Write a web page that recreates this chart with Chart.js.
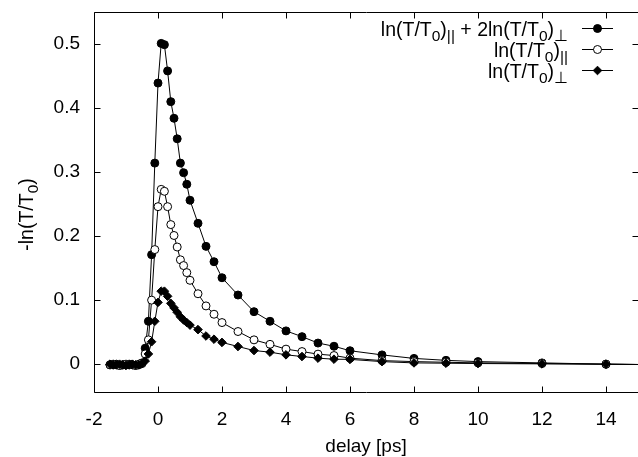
<!DOCTYPE html>
<html><head><meta charset="utf-8">
<script src="https://cdn.jsdelivr.net/npm/chart.js@4/dist/chart.umd.min.js"></script>
<style>html,body{margin:0;padding:0;background:#fff;overflow:hidden}</style>
</head><body>
<canvas id="c" width="638" height="457"></canvas>
<script>
// ---- data ----
const delays = [-1.5,-1.4,-1.3,-1.2,-1.1,-1.0,-0.9,-0.8,-0.7,-0.6,-0.5,
  -0.4,-0.3,-0.2,-0.1,0.0,0.1,0.2,0.3,0.4,0.5,0.6,0.7,0.8,0.9,1.0,
  1.25,1.5,1.75,2.0,2.5,3.0,3.5,4.0,4.5,5.0,5.5,6.0,7,8,9,10,12,14,16];
const sumValues = [-0.001,0.000,-0.001,-0.002,-0.001,-0.001,0.000,-0.001,-0.002,-0.001,0.001,
  0.025,0.067,0.171,0.314,0.439,0.501,0.499,0.458,0.410,0.384,0.352,0.314,0.299,0.281,0.256,
  0.220,0.184,0.160,0.135,0.108,0.082,0.067,0.052,0.043,0.033,0.028,0.021,0.0145,0.009,0.006,0.004,0.002,0.000,-0.001];
const parValues = [-0.001,-0.001,0.000,-0.002,-0.001,0.000,-0.001,-0.001,-0.002,0.000,0.002,
  0.016,0.038,0.100,0.179,0.246,0.273,0.270,0.246,0.218,0.201,0.183,0.163,0.154,0.143,0.131,
  0.110,0.091,0.078,0.065,0.051,0.038,0.031,0.0235,0.0197,0.0157,0.0135,0.0094,0.0056,0.004,0.003,0.002,0.001,0.000,-0.001];
const perpValues = [0.000,-0.001,-0.001,0.000,-0.001,-0.002,-0.001,0.000,-0.001,-0.001,0.001,
  0.005,0.016,0.035,0.067,0.0965,0.114,0.114,0.106,0.095,0.088,0.081,0.074,0.069,0.065,0.061,
  0.054,0.044,0.039,0.034,0.0276,0.0213,0.0188,0.0146,0.012,0.0094,0.0078,0.0075,0.004,0.002,0.0015,0.001,0.0005,0.000,-0.001];
const xTickValues = [-2,0,2,4,6,8,10,12,14];
const yTickValues = [0,0.1,0.2,0.3,0.4,0.5];
const xLabel = 'delay [ps]';

const FONT = '"Liberation Sans", Arial, Helvetica, sans-serif';
const FS = 19, LFS = 19.5, SUBFS = 15.5;
const toXY = vals => delays.map((d,i)=>({x:d,y:vals[i]}));

// rich text segments: [text, isSub]
const legendEntries = [
  {segs:[['ln(T/T',0],['0',1],[')',0],['||',1],[' + 2ln(T/T',0],['0',1],[')',0],['\u22A5',1]], style:'filled'},
  {segs:[['ln(T/T',0],['0',1],[')',0],['||',1]], style:'open'},
  {segs:[['ln(T/T',0],['0',1],[')',0],['\u22A5',1]], style:'diamond'}
];
const yTitleSegs = [['-ln(T/T',0],['0',1],[')',0]];

function segWidth(ctx, segs){
  let w=0;
  for(const [t,s] of segs){ ctx.font = (s?SUBFS:LFS)+'px '+FONT; w+=ctx.measureText(t).width; }
  return w;
}
function drawSegs(ctx, segs, x, y){
  let cx=x;
  for(const [t,s] of segs){
    ctx.font = (s?SUBFS:LFS)+'px '+FONT;
    ctx.fillText(t, cx, s? y+5 : y);
    cx += ctx.measureText(t).width;
  }
}
function drawMarker(ctx, style, x, y){
  ctx.beginPath();
  if(style==='diamond'){
    const r=4.3; ctx.moveTo(x-r,y); ctx.lineTo(x,y-r); ctx.lineTo(x+r,y); ctx.lineTo(x,y+r); ctx.closePath();
    ctx.fillStyle='#000'; ctx.fill(); ctx.stroke();
  } else {
    ctx.arc(x,y,4,0,Math.PI*2);
    ctx.fillStyle = style==='open' ? '#fff' : '#000';
    ctx.fill(); ctx.stroke();
  }
}

const framePlugin = {
  id:'frame',
  afterDraw(chart){
    const ctx=chart.ctx, a=chart.chartArea, xs=chart.scales.x, ys=chart.scales.y;
    ctx.save();
    ctx.strokeStyle='#000'; ctx.lineWidth=1;
    const L=Math.round(a.left)+0.5, T=Math.round(a.top)+0.5, B=Math.round(a.bottom)-0.5, R=Math.round(a.right)-0.5;
    ctx.beginPath();
    ctx.moveTo(R+1,T); ctx.lineTo(L,T); ctx.lineTo(L,B); ctx.lineTo(R+1,B);
    for(const v of xTickValues){
      const px=Math.round(xs.getPixelForValue(v))+0.5;
      ctx.moveTo(px,B); ctx.lineTo(px,B-6);
      ctx.moveTo(px,T); ctx.lineTo(px,T+6);
    }
    for(const v of yTickValues){
      const py=Math.round(ys.getPixelForValue(v))+0.5;
      ctx.moveTo(L,py); ctx.lineTo(L+6,py);
      ctx.moveTo(R+1,py); ctx.lineTo(R-5,py);
    }
    ctx.stroke();
    // legend
    ctx.fillStyle='#000'; ctx.textBaseline='alphabetic'; ctx.textAlign='left';
    const textRight=568, sampleL=582, sampleR=613, sampleY0=28.5, dy=21;
    legendEntries.forEach((e,i)=>{
      const sy=sampleY0+i*dy;
      const w=segWidth(ctx,e.segs);
      ctx.fillStyle='#000';
      drawSegs(ctx,e.segs,textRight-w,sy+7.5);
      ctx.beginPath(); ctx.moveTo(sampleL,sy); ctx.lineTo(sampleR,sy); ctx.stroke();
      drawMarker(ctx,e.style,(sampleL+sampleR)/2,sy);
    });
    // x title
    ctx.fillStyle='#000';
    ctx.font = FS+'px '+FONT; ctx.textAlign='center';
    ctx.fillText(xLabel,(a.left+a.right)/2,452);
    ctx.textAlign='left';
    // y title
    ctx.save();
    ctx.translate(33,(a.top+a.bottom)/2+12);
    ctx.rotate(-Math.PI/2);
    const w=segWidth(ctx,yTitleSegs);
    drawSegs(ctx,yTitleSegs,-w/2,0);
    ctx.restore();
    ctx.restore();
  }
};

const common = {borderColor:'#000', borderWidth:1, pointBorderColor:'#000', pointBorderWidth:1, tension:0, showLine:true, fill:false};
new Chart(document.getElementById('c'), {
  type:'line',
  data:{datasets:[
    Object.assign({label:'sum', data:toXY(sumValues), pointStyle:'circle', pointRadius:4, pointBackgroundColor:'#000', order:3}, common),
    Object.assign({label:'par', data:toXY(parValues), pointStyle:'circle', pointRadius:4, pointBackgroundColor:'#fff', order:2}, common),
    Object.assign({label:'perp', data:toXY(perpValues), pointStyle:'rectRot', pointRadius:4.3, pointBackgroundColor:'#000', order:1}, common)
  ]},
  options:{
    responsive:false, animation:false, devicePixelRatio:1,
    layout:{autoPadding:false, padding:{top:12,right:0,left:0,bottom:0}},
    plugins:{legend:{display:false}, tooltip:{enabled:false}},
    scales:{
      x:{type:'linear', min:-2, max:15,
        afterBuildTicks(s){ s.ticks = xTickValues.map(v=>({value:v})); },
        afterFit(s){ s.height=64; s.paddingLeft=0; s.paddingRight=0; },
        grid:{display:false, drawTicks:false}, border:{display:false},
        ticks:{color:'#000', font:{family:FONT,size:FS}, padding:15, maxRotation:0, autoSkip:false,
          callback:v=>String(v)},
        title:{display:false}
      },
      y:{type:'linear', min:-0.045, max:0.55,
        afterBuildTicks(s){ s.ticks = yTickValues.map(v=>({value:v})); },
        afterFit(s){ s.width=94; s.paddingTop=0; s.paddingBottom=0; },
        grid:{display:false, drawTicks:false}, border:{display:false},
        ticks:{color:'#000', font:{family:FONT,size:FS}, padding:14, autoSkip:false,
          callback:v=> v===0 ? '0' : v.toFixed(1)}
      }
    }
  },
  plugins:[framePlugin]
});
</script>
</body></html>
